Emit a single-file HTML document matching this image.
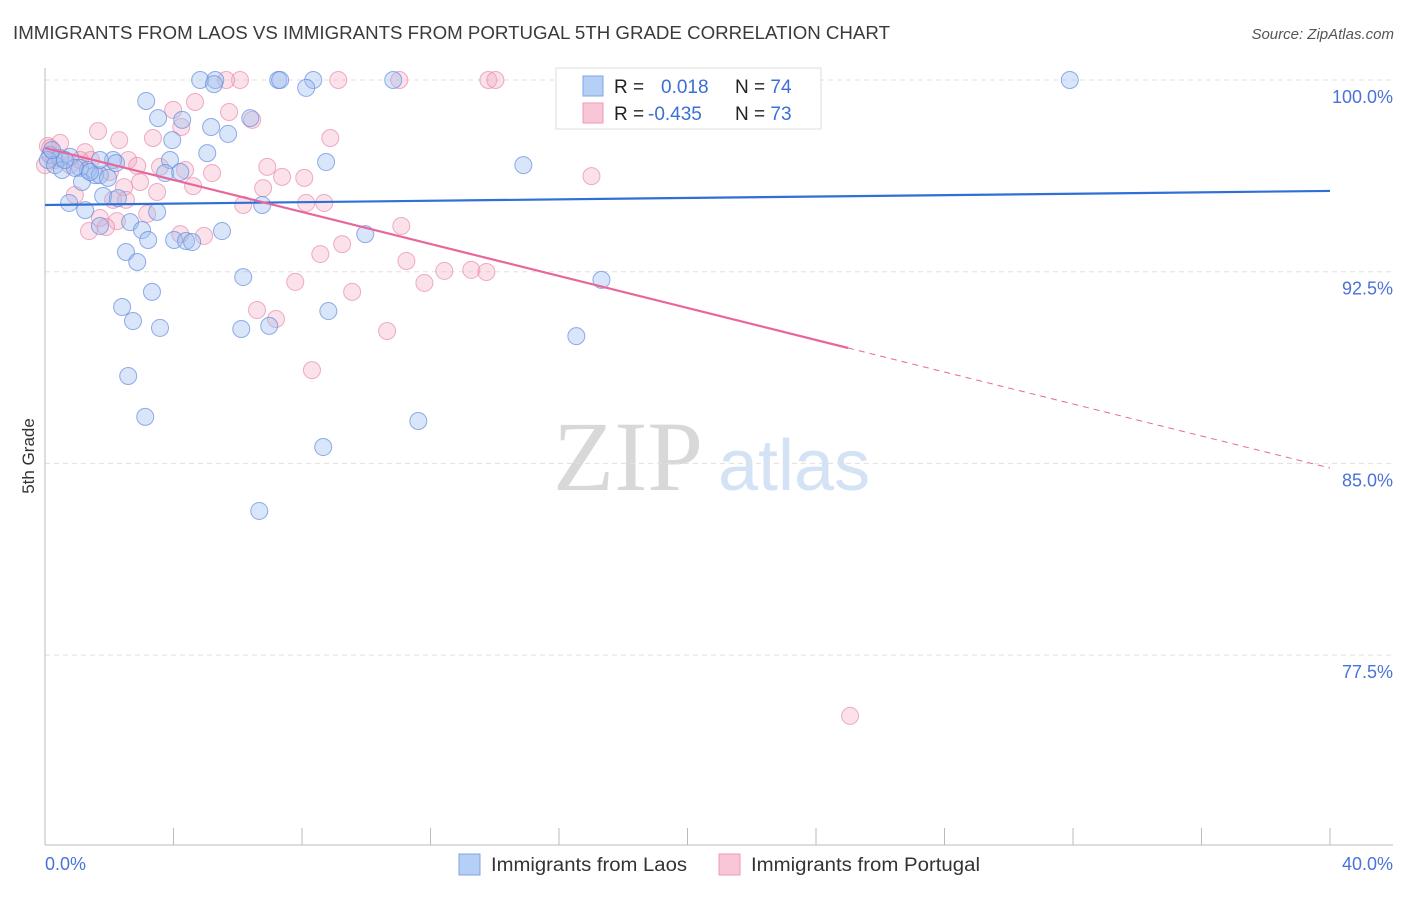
<!DOCTYPE html>
<html><head><meta charset="utf-8">
<style>
body{margin:0;background:#fff;font-family:"Liberation Sans",sans-serif;}
svg text{font-family:"Liberation Sans",sans-serif;}
</style></head>
<body>
<svg id="chart" width="1406" height="892" xmlns="http://www.w3.org/2000/svg">
<text x="13" y="39" font-size="18" fill="#3a3a3a" textLength="877" lengthAdjust="spacingAndGlyphs">IMMIGRANTS FROM LAOS VS IMMIGRANTS FROM PORTUGAL 5TH GRADE CORRELATION CHART</text>
<text x="1394" y="39" font-size="15" fill="#555" font-style="italic" text-anchor="end">Source: ZipAtlas.com</text>
<text x="34" y="456" font-size="17" fill="#333" transform="rotate(-90 34 456)" text-anchor="middle">5th Grade</text>
<text x="553" y="490" font-size="100" fill="#d8d8d8" style="font-family:'Liberation Serif',serif">ZIP</text>
<text x="718" y="490" font-size="72" fill="#d4e2f5">atlas</text>
<g id="grid"></g>
<g id="axes"></g>
<g id="points"></g>
<g id="trends"></g>
<g>
<rect x="556" y="68" width="265" height="61" fill="#fff" stroke="#ddd"/>
<rect x="583" y="76" width="20" height="20" fill="#b6cff4" stroke="#7fa4e6"/>
<rect x="583" y="103" width="20" height="20" fill="#f8c6d6" stroke="#ee9ab5"/>
<text x="614" y="93" font-size="19" fill="#222">R = <tspan x="661" fill="#3b6fd4">0.018</tspan><tspan x="735" fill="#222">N = </tspan><tspan fill="#3b6fd4">74</tspan></text>
<text x="614" y="120" font-size="19" fill="#222">R = <tspan x="648" fill="#3b6fd4">-0.435</tspan><tspan x="735" fill="#222">N = </tspan><tspan fill="#3b6fd4">73</tspan></text>
</g>
<g>
<rect x="459" y="854" width="21" height="21" fill="#b6cff4" stroke="#7fa4e6"/>
<text x="491" y="871" font-size="19" fill="#333" textLength="196" lengthAdjust="spacingAndGlyphs">Immigrants from Laos</text>
<rect x="719" y="854" width="21" height="21" fill="#f8c6d6" stroke="#ee9ab5"/>
<text x="751" y="871" font-size="19" fill="#333" textLength="229" lengthAdjust="spacingAndGlyphs">Immigrants from Portugal</text>
</g>
</svg>
<script>
const blueX=[4.83,5.30,5.26,7.26,7.32,8.35,8.13,10.84,31.9,3.15,4.27,3.52,5.17,5.70,6.39,3.96,5.05,3.89,2.12,2.21,8.75,14.89,0.16,0.47,0.78,1.09,1.34,1.56,1.71,1.96,1.15,3.74,4.21,0.75,1.25,1.81,2.27,3.49,6.76,1.71,2.65,3.02,3.21,4.02,4.39,4.58,5.51,9.97,2.52,2.87,6.17,17.32,3.33,2.40,2.74,3.58,6.11,6.98,8.82,16.54,2.59,3.12,11.62,8.66,6.67,0.09,0.31,0.53,0.93,1.40,0.22,0.62,1.71];
const blueY=[100,100,99.84,100,100,100,99.69,100,100,99.18,98.44,98.51,98.16,97.89,98.51,97.65,97.14,96.87,96.87,96.75,96.79,96.67,97.07,96.95,96.99,96.56,96.48,96.28,96.28,96.17,96.01,96.36,96.40,95.19,94.91,95.46,95.38,94.84,95.11,94.29,94.44,94.13,93.74,93.74,93.70,93.66,94.09,93.97,93.27,92.88,92.29,92.18,91.71,91.12,90.57,90.30,90.26,90.38,90.96,89.98,88.42,86.82,86.66,85.64,83.14,96.87,96.67,96.48,96.56,96.40,97.26,96.87,96.87];
const pinkX=[6.07,5.64,9.13,11.03,13.80,14.02,16.60,4.67,3.99,5.73,6.45,4.24,1.65,2.31,3.36,8.88,0.09,0.47,1.25,1.43,2.59,2.87,3.58,4.36,6.92,7.38,8.07,17.01,2.02,2.46,2.96,3.49,4.61,6.79,5.20,0.93,2.12,2.52,6.17,8.13,8.69,3.18,1.71,2.24,1.37,1.90,4.21,4.95,11.09,9.25,8.57,11.25,11.81,12.43,13.27,13.74,7.79,9.56,6.60,7.19,10.65,8.31,25.06,0.16,0.31,0.78,0,1.09];
const pinkY=[100,100,100,100,100,100,100,99.14,98.83,98.75,98.44,98.16,98.00,97.65,97.73,97.73,97.42,97.54,97.18,96.87,96.87,96.64,96.60,96.48,96.60,96.21,96.17,96.24,96.40,95.81,96.01,95.62,95.85,95.77,96.36,95.50,95.31,95.31,95.11,95.19,95.19,94.76,94.60,94.48,94.09,94.25,93.97,93.90,94.29,93.58,93.19,92.92,92.06,92.53,92.57,92.49,92.10,91.71,91.00,90.65,90.18,88.65,75.12,97.34,96.87,96.67,96.67,96.87];
const blueTrend=[95.11,95.66];
const pinkTrend=[97.34,84.82];
const pinkSolidEnd=25;
const yTicks=[100,92.5,85,77.5];
const yTickLabels=["100.0%","92.5%","85.0%","77.5%"];
const xTicks=[0,4,8,12,16,20,24,28,32,36,40];

const NS="http://www.w3.org/2000/svg";
const sx=v=>45+v*32.125;
const sy=v=>80+(100-v)*25.56;
function mk(tag,attrs,parent){const e=document.createElementNS(NS,tag);for(const k in attrs)e.setAttribute(k,attrs[k]);document.getElementById(parent).appendChild(e);return e;}

yTicks.forEach((t,i)=>{
  const l=mk('line',{x1:45,x2:1393,y1:sy(t),y2:sy(t),stroke:'#e0e0e0','stroke-dasharray':'5,4'},'grid');
  
  
  const tx=mk('text',{x:1393,y:sy(t)+23,'font-size':18,fill:'#4a72d8','text-anchor':'end'},'grid');
  tx.textContent=yTickLabels[i];
  
  
});
let a=mk('line',{x1:45,x2:45,y1:68,y2:845,stroke:'#bbb'},'axes');


a=mk('line',{x1:45,x2:1393,y1:845,y2:845,stroke:'#bbb'},'axes');


xTicks.forEach(t=>{
  const l=mk('line',{x1:sx(t),x2:sx(t),y1:828,y2:845,stroke:'#bbb'},'axes');
  
  
});
a=mk('text',{x:45,y:870,'font-size':18,fill:'#4a72d8'},'axes');a.textContent='0.0%';


a=mk('text',{x:1393,y:870,'font-size':18,fill:'#4a72d8','text-anchor':'end'},'axes');a.textContent='40.0%';



pinkX.forEach((x,i)=>{
  const c=mk('circle',{cx:sx(x),cy:sy(pinkY[i]),r:8.5,fill:'rgba(244,170,196,0.35)',stroke:'rgba(232,140,172,0.7)','stroke-width':1},'points');
  
  
});
blueX.forEach((x,i)=>{
  const c=mk('circle',{cx:sx(x),cy:sy(blueY[i]),r:8.5,fill:'rgba(160,190,240,0.4)',stroke:'rgba(100,140,220,0.7)','stroke-width':1},'points');
  
  
});
let t=mk('line',{x1:sx(0),y1:sy(blueTrend[0]),x2:sx(40),y2:sy(blueTrend[1]),stroke:'#2f6fd6','stroke-width':2.2},'trends');


const pAt=x=>pinkTrend[0]+(pinkTrend[1]-pinkTrend[0])*x/40;
t=mk('line',{x1:sx(0),y1:sy(pinkTrend[0]),x2:sx(pinkSolidEnd),y2:sy(pAt(pinkSolidEnd)),stroke:'#e8679a','stroke-width':2.2},'trends');


t=mk('line',{x1:sx(pinkSolidEnd),y1:sy(pAt(pinkSolidEnd)),x2:sx(40),y2:sy(pinkTrend[1]),stroke:'#e8679a','stroke-width':1,'stroke-dasharray':'6,5'},'trends');


</script>
</body></html>
